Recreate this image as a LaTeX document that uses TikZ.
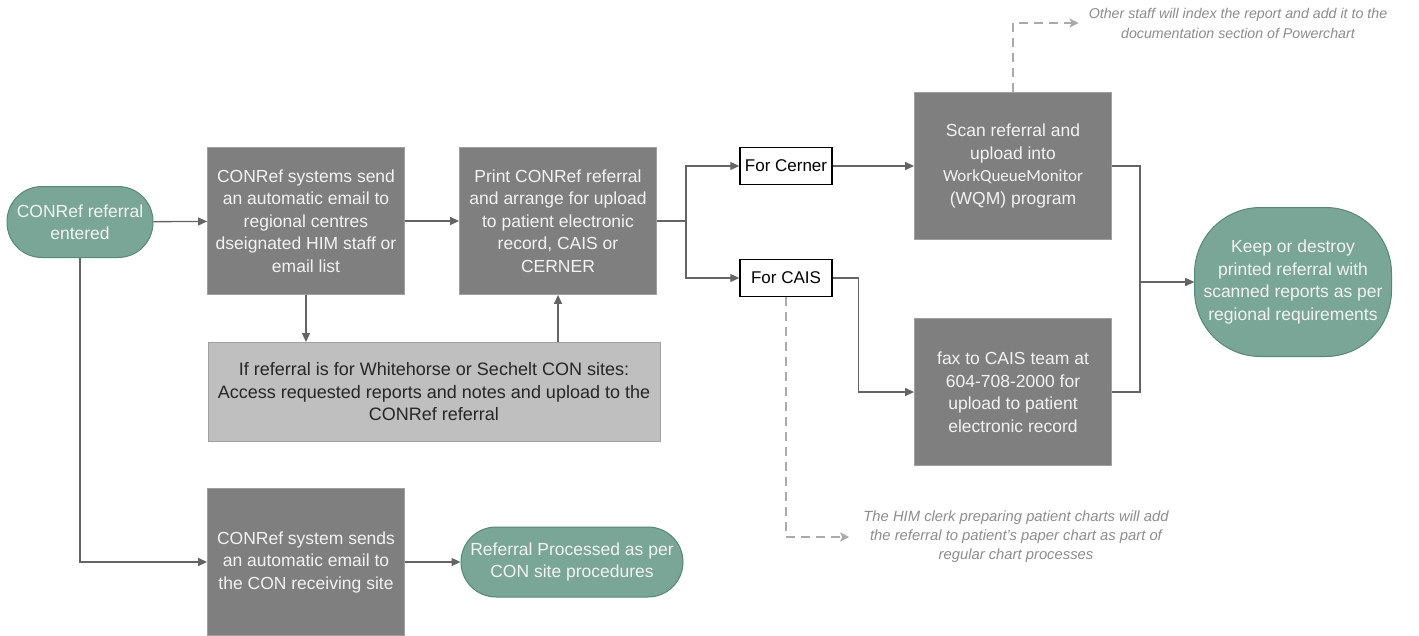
\documentclass[tikz,border=0pt]{standalone}
\usepackage{fontspec}
\setmainfont{Liberation Sans}
\newfontfamily\wqmfont{Carlito}
\usetikzlibrary{arrows.meta}
\definecolor{procfill}{RGB}{127,127,127}
\definecolor{procedge}{RGB}{160,160,160}
\definecolor{termfill}{RGB}{122,166,152}
\definecolor{termedge}{RGB}{88,134,119}
\definecolor{checkfill}{RGB}{191,191,191}
\definecolor{checkedge}{RGB}{160,160,160}
\definecolor{linegray}{RGB}{100,100,100}
\definecolor{dashgray}{RGB}{170,170,170}
\definecolor{memotext}{RGB}{140,140,140}
\definecolor{paper}{RGB}{242,242,242}
\tikzset{
  plain/.style={font=\fontsize{17.5}{22.5}\selectfont},
  proc/.style={draw=procedge, line width=0.8pt, fill=procfill, text=paper, align=center, plain,
    minimum width=197pt, minimum height=147pt, inner sep=0pt},
  term/.style={draw=termedge, line width=1pt, fill=termfill, text=paper, align=center, plain, inner sep=0pt},
  choice/.style={draw=black, line width=1.5pt, fill=white, font=\fontsize{17}{20}\selectfont,
    minimum width=92pt, minimum height=37pt, inner sep=0pt},
  check/.style={draw=checkedge, line width=1pt, fill=checkfill, text=black!85, align=center,
    font=\fontsize{18}{22.5}\selectfont, minimum width=452pt, minimum height=99pt, inner sep=0pt},
  memo/.style={text=memotext, align=center, inner sep=0pt},
  flow/.style={draw=linegray, line width=1.3pt, -{Triangle[length=9pt,width=8pt]}},
  aside/.style={draw=dashgray, line width=2pt, dash pattern=on 9pt off 6pt, -{Stealth[length=9pt,width=9pt,inset=2pt]}}
}
\begin{document}
\begin{tikzpicture}[x=1pt,y=-1pt]
\useasboundingbox (0,0) rectangle (1419,635);
\node[term, rounded corners=35pt, minimum width=146pt, minimum height=71pt] (entered) at (80,222) {CONRef referral\\entered};
\node[proc] (emailhim) at (306,221) {CONRef systems send\\an automatic email to\\regional centres\\dseignated HIM staff or\\email list};
\node[proc] (print) at (558,221) {Print CONRef referral\\and arrange for upload\\to patient electronic\\record, CAIS or\\CERNER};
\node[check] (sites) at (434,392) {If referral is for Whitehorse or Sechelt CON sites:\\Access requested reports and notes and upload to the\\CONRef referral};
\node[choice] (cerner) at (786,166) {For Cerner};
\node[choice] (cais) at (786,278) {For CAIS};
\node[proc] (scan) at (1013,166) {Scan referral and\\upload into\\{\wqmfont\fontsize{17}{22.5}\selectfont WorkQueueMonitor}\\(WQM) program};
\node[proc] (fax) at (1013,392) {fax to CAIS team at\\604-708-2000 for\\upload to patient\\electronic record};
\node[term, rounded corners=66pt, minimum width=197pt, minimum height=149pt] (keep) at (1293,282) {Keep or destroy\\printed referral with\\scanned reports as per\\regional requirements};
\node[proc] (emailcon) at (306,562) {CONRef system sends\\an automatic email to\\the CON receiving site};
\node[term, rounded corners=35pt, minimum width=222pt, minimum height=70pt] (processed) at (572,562) {Referral Processed as per\\CON site procedures};
\node[memo, font=\itshape\fontsize{14.2}{20}\selectfont] (powerchart) at (1238,23) {Other staff will index the report and add it to the\\documentation section of Powerchart};
\node[memo, font=\itshape\fontsize{14.8}{19}\selectfont] (paperchart) at (1016,537) {The HIM clerk preparing patient charts will add\\the referral to patient's paper chart as part of\\regular chart processes};

\draw[flow] (entered) -- (emailhim); \draw[flow] (emailhim) -- (print);
\draw[flow] (emailhim.south) -- (emailhim.south |- sites.north);
\draw[flow] (print.south |- sites.north) -- (print.south);
\draw[flow] (print.east) -- ++(29,0) |- (cerner.west); \draw[flow] (print.east) -- ++(29,0) |- (cais.west);
\draw[flow] (cerner) -- (scan); \draw[flow] (cais.east) -- ++(26,0) |- (fax.west);
\draw[flow] (scan.east) -- ++(28,0) |- (keep.west); \draw[flow] (fax.east) -- ++(28,0) |- (keep.west);
\draw[flow] (entered.south) |- (emailcon.west); \draw[flow] (emailcon) -- (processed);
\draw[aside, shorten >=10pt] (scan.north) |- (powerchart.west);
\draw[aside, shorten >=14pt] (cais.south) |- (paperchart.west);
\end{tikzpicture}
\end{document}
